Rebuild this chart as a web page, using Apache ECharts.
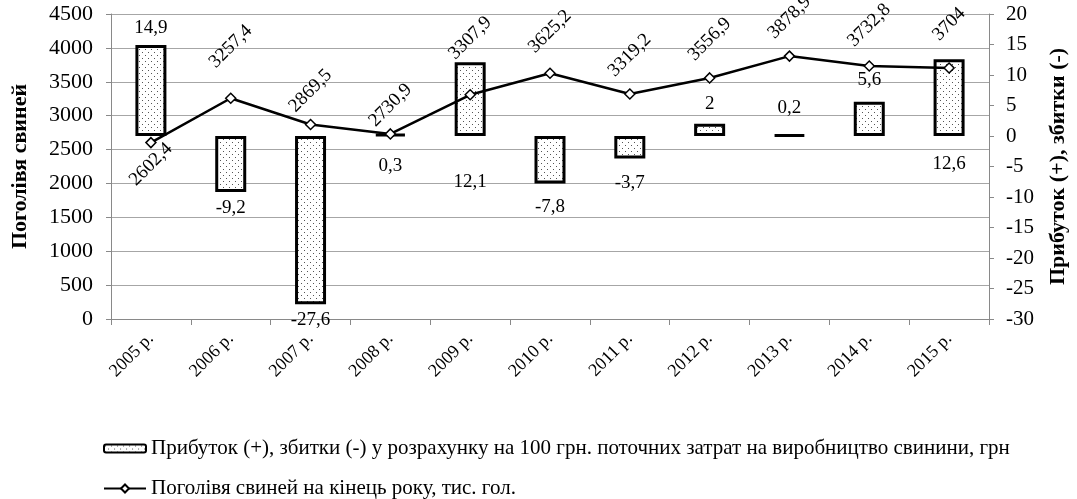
<!DOCTYPE html>
<html>
<head>
<meta charset="utf-8">
<script src="https://cdn.jsdelivr.net/npm/echarts@6/dist/echarts.min.js"></script>
<style>
  html, body { margin: 0; padding: 0; background: #fff; }
  #chart { width: 1077px; height: 499px; }
</style>
</head>
<body>
<div id="chart"></div>
<script>
// роки
var years = ['2005 р.', '2006 р.', '2007 р.', '2008 р.', '2009 р.', '2010 р.',
  '2011 р.', '2012 р.', '2013 р.', '2014 р.', '2015 р.'];
// прибуток / збитки на 100 грн затрат
var profit = [14.9, -9.2, -27.6, 0.3, 12.1, -7.8, -3.7, 2, 0.2, 5.6, 12.6];
// поголів'я свиней, тис. гол.
var herd = [2602.4, 3257.4, 2869.5, 2730.9, 3307.9, 3625.2, 3319.2, 3556.9, 3878.9, 3732.8, 3704];

var profitName = 'Прибуток (+), збитки (-) у розрахунку на 100 грн. поточних затрат на виробництво свинини, грн';
var herdName = 'Поголівя свиней на кінець року, тис. гол.';

var FONT = '"Liberation Serif", "Times New Roman", serif';

// крапчаста заливка
function dots() {
  var c = document.createElement('canvas');
  c.width = 6; c.height = 6;
  var g = c.getContext('2d');
  g.fillStyle = '#fff';
  g.fillRect(0, 0, 6, 6);
  g.fillStyle = '#555';
  g.fillRect(1, 1, 1, 1);
  g.fillRect(4, 4, 1, 1);
  return c;
}

function fmt(v) {
  return String(v).replace('.', ',');
}

// де стоїть підпис стовпчика
var barLabelPos = ['top', 'bottom', 'bottom', 'bottom', 'bottom', 'bottom', 'bottom', 'top', 'top', 'top', 'bottom'];
var barLabelDist = [8, 6, 6, 20, 37, 14, 15, 10, 16, 12, 19];
// відстань підписів лінії над точками
var lineLabelDist = [16, 46, 28, 23, 51, 36, 33, 33, 33, 35, 38];

var barData = profit.map(function (v, i) {
  return {
    value: v,
    label: { position: barLabelPos[i], distance: barLabelDist[i] }
  };
});

var lineData = herd.map(function (v, i) {
  return {
    value: v,
    label: { position: i === 0 ? 'bottom' : 'top', distance: lineLabelDist[i] }
  };
});

var legendText = { fontFamily: FONT, fontSize: 21, color: '#000' };

var myChart = echarts.init(document.getElementById('chart'));
var option = {
  animation: false,
  textStyle: { fontFamily: FONT, color: '#000' },
  grid: { left: 111, right: 77, top: 14, bottom: 180 },
  legend: [
    {
      left: 103,
      top: 438,
      padding: 0,
      itemGap: 0,
      itemWidth: 42,
      itemHeight: 8,
      textStyle: legendText,
      data: [profitName]
    },
    {
      left: 103,
      top: 478,
      padding: 0,
      itemGap: 0,
      itemWidth: 42,
      itemHeight: 10,
      textStyle: legendText,
      data: [herdName]
    }
  ],
  xAxis: {
    type: 'category',
    data: years,
    boundaryGap: true,
    axisLine: { lineStyle: { color: '#898989', width: 1 } },
    axisTick: { show: true, length: 6, lineStyle: { color: '#898989' } },
    axisLabel: {
      rotate: 45,
      margin: 17,
      fontFamily: FONT,
      fontSize: 18,
      color: '#000'
    }
  },
  yAxis: [
    {
      type: 'value',
      min: 0,
      max: 4500,
      interval: 500,
      name: 'Поголівя свиней',
      nameLocation: 'middle',
      nameGap: 80,
      nameTextStyle: { fontFamily: FONT, fontSize: 22, fontWeight: 'bold', color: '#000' },
      axisLine: { show: true, lineStyle: { color: '#898989' } },
      axisTick: { show: true, length: 5, lineStyle: { color: '#898989' } },
      axisLabel: {
        fontFamily: FONT, fontSize: 22, color: '#000', margin: 18,
        formatter: function (v) { return String(v); }
      },
      splitLine: { lineStyle: { color: '#a6a6a6', width: 1 } }
    },
    {
      type: 'value',
      min: -30,
      max: 20,
      interval: 5,
      position: 'right',
      name: 'Прибуток (+), збитки (-)',
      nameLocation: 'middle',
      nameGap: 58,
      nameTextStyle: { fontFamily: FONT, fontSize: 22, fontWeight: 'bold', color: '#000' },
      axisLine: { show: true, lineStyle: { color: '#898989' } },
      axisTick: { show: true, length: 5, lineStyle: { color: '#898989' } },
      axisLabel: { fontFamily: FONT, fontSize: 21, color: '#000', margin: 17 },
      splitLine: { show: false }
    }
  ],
  series: [
    {
      name: profitName,
      type: 'bar',
      yAxisIndex: 1,
      barWidth: 31,
      data: barData,
      itemStyle: {
        color: { image: dots(), repeat: 'repeat' },
        borderColor: '#000',
        borderWidth: 3
      },
      label: {
        show: true,
        fontFamily: FONT,
        fontSize: 19,
        color: '#000',
        formatter: function (p) { return fmt(p.value); }
      },
      z: 2
    },
    {
      name: herdName,
      type: 'line',
      yAxisIndex: 0,
      data: lineData,
      symbol: 'diamond',
      symbolSize: 10,
      lineStyle: { color: '#000', width: 2.5 },
      itemStyle: { color: '#fff', borderColor: '#000', borderWidth: 1.5 },
      label: {
        show: true,
        rotate: 45,
        align: 'center',
        verticalAlign: 'middle',
        fontFamily: FONT,
        fontSize: 19,
        color: '#000',
        formatter: function (p) { return fmt(p.value); }
      },
      z: 3
    }
  ]
};
myChart.setOption(option);
window.addEventListener('resize', function () {
  myChart.resize();
});
</script>
</body>
</html>
